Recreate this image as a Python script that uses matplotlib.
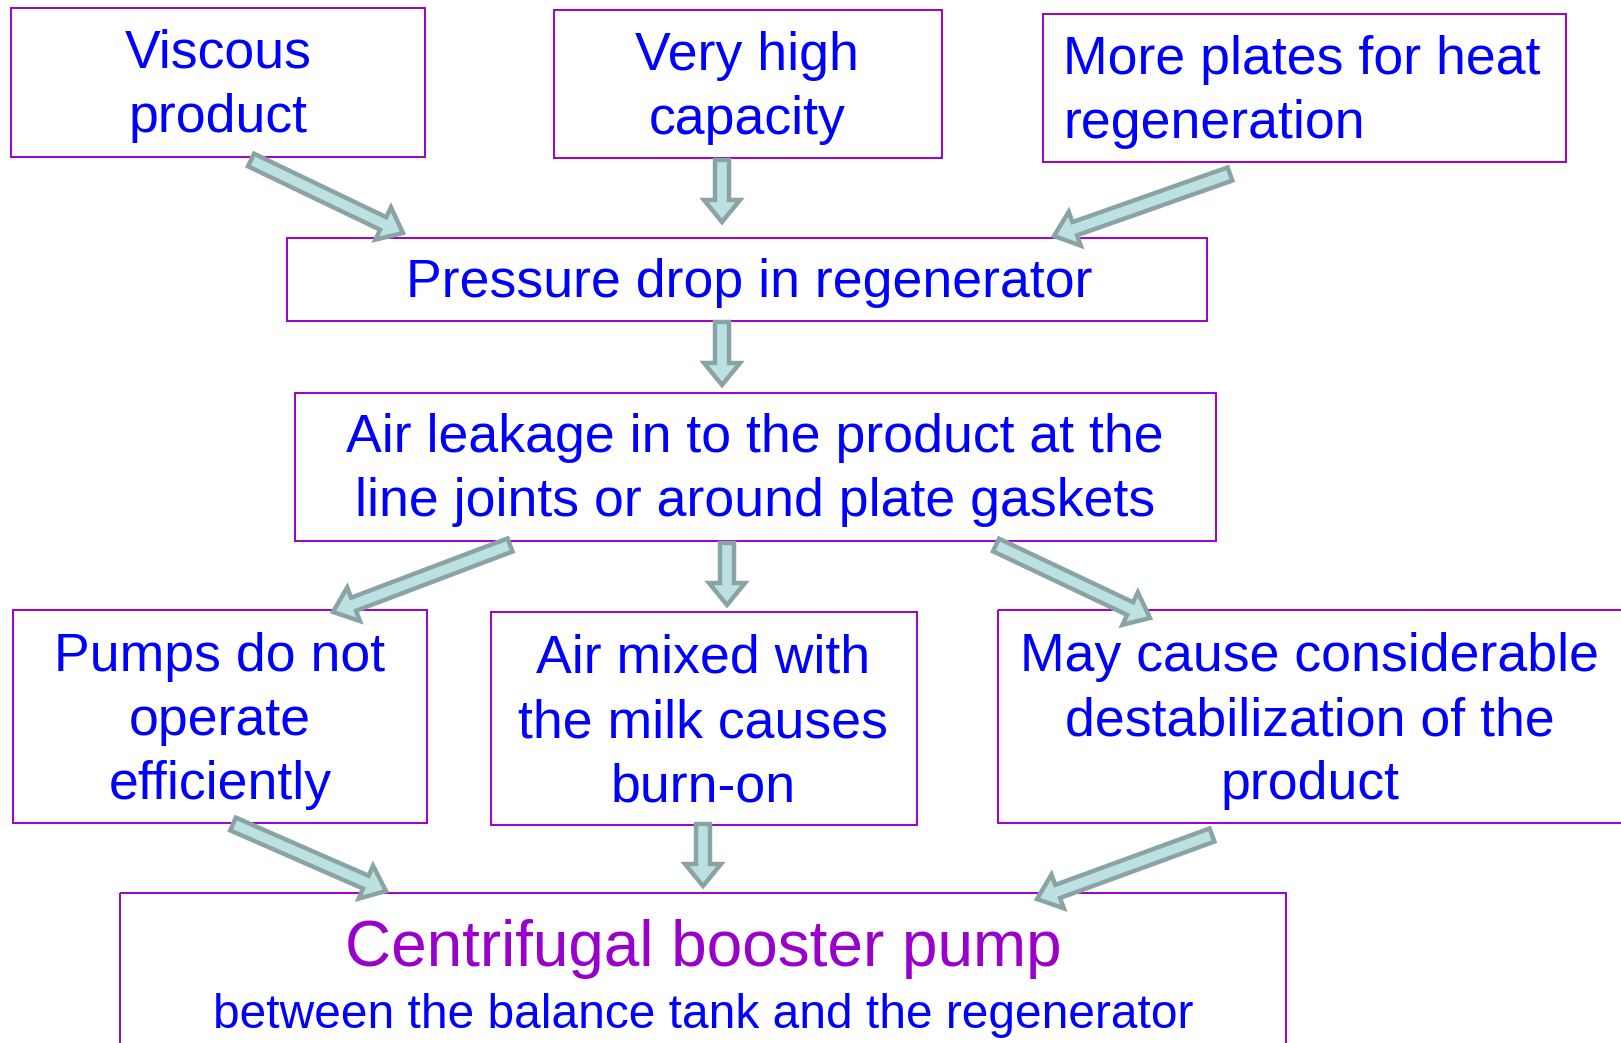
import matplotlib
matplotlib.use("Agg")
import matplotlib.pyplot as plt
from matplotlib.patches import Rectangle, FancyArrow

W, H = 1621, 1043
plt.rcParams['font.family'] = ['Liberation Sans', 'DejaVu Sans']

# Box texts
box_texts = [
    "Viscous\nproduct",
    "Very high\ncapacity",
    "More plates for heat\nregeneration",
    "Pressure drop in regenerator",
    "Air leakage in to the product at the\nline joints or around plate gaskets",
    "Pumps do not\noperate\nefficiently",
    "Air mixed with\nthe milk causes\nburn-on",
    "May cause considerable\ndestabilization of the\nproduct",
]
title_main = "Centrifugal booster pump"
title_sub = "between the balance tank and the regenerator"

# Layout (pixel coords, y downward)
boxes = [
    (11, 8, 425, 157),
    (554, 10, 942, 158),
    (1043, 14, 1566, 162),
    (287, 238, 1207, 321),
    (295, 393, 1216, 541),
    (13, 610, 427, 823),
    (491, 612, 917, 825),
    (998, 610, 1625, 823),
    (120, 893, 1286, 1050),
]
text_pos = [
    (218, 86, 'center'),
    (747, 88, 'center'),
    (1063, 92, 'left'),
    (749, 283, 'center'),
    (755, 470, 'center'),
    (220, 721, 'center'),
    (703, 723, 'center'),
    (1310, 721, 'center'),
]
arrows = [
    ((251, 160), (403, 233)),
    ((722, 160), (722, 222)),
    ((1230, 174), (1054, 236)),
    ((722, 322), (722, 385)),
    ((510, 545), (333, 612)),
    ((727, 543), (727, 605)),
    ((996, 545), (1150, 618)),
    ((233, 824), (386, 891)),
    ((703, 824), (703, 886)),
    ((1212, 835), (1037, 899)),
]

fig = plt.figure(figsize=(W / 100, H / 100), dpi=100)
ax = fig.add_axes([0, 0, 1, 1])
ax.set_xlim(0, W)
ax.set_ylim(H, 0)
ax.axis('off')

edge_col = '#9d00c8'
for (x0, y0, x1, y1) in boxes:
    ax.add_patch(Rectangle((x0, y0), x1 - x0, y1 - y0, fill=False,
                           edgecolor=edge_col, linewidth=1.4, zorder=2))

for t, (x, y, ha) in zip(box_texts, text_pos):
    ax.text(x, y, t, ha=ha, va='center', color='#0000ff', fontsize=38.6,
            linespacing=1.36, zorder=3)

ax.text(703, 949, title_main, ha='center', va='center', color='#9900cc',
        fontsize=46, zorder=3)
ax.text(703, 1015, title_sub, ha='center', va='center', color='#0000ff',
        fontsize=34.5, zorder=3)

for (x0, y0), (x1, y1) in arrows:
    ax.add_patch(FancyArrow(x0, y0, x1 - x0, y1 - y0, width=14,
                            head_width=36, head_length=22,
                            length_includes_head=True,
                            facecolor='#bde0e3', edgecolor='#8aa4a4',
                            linewidth=3.2, joinstyle='miter', zorder=4))

fig.savefig('out.png', dpi=100)
